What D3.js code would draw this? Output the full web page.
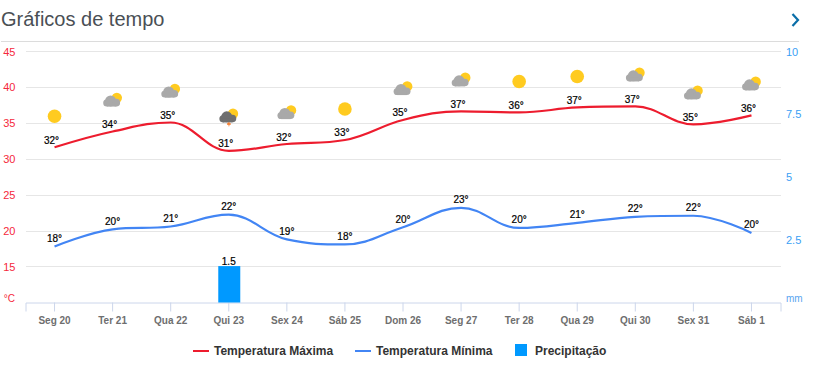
<!DOCTYPE html>
<html>
<head>
<meta charset="utf-8">
<script src="https://cdn.jsdelivr.net/npm/d3@7"></script>
<style>
  body { margin: 0; background: #fff; }
  svg { display: block; font-family: "Liberation Sans", Arial, sans-serif; }
  .grid line { stroke: #e6e6e6; }
</style>
</head>
<body>
<svg id="chart" width="821" height="373"></svg>
<script>
const days = ["Seg 20", "Ter 21", "Qua 22", "Qui 23", "Sex 24", "Sáb 25", "Dom 26", "Seg 27", "Ter 28", "Qua 29", "Qui 30", "Sex 31", "Sáb 1"];
const tempMax = [31.65, 33.85, 35.1, 31.15, 32.1, 32.66, 35.45, 36.66, 36.5, 37.2, 37.35, 34.85, 36.1];
const tempMin = [17.8, 20.2, 20.6, 22.25, 18.8, 18.1, 20.5, 23.2, 20.4, 21.1, 21.95, 22.1, 19.7];
const maxLabels = [32, 34, 35, 31, 32, 33, 35, 37, 36, 37, 37, 35, 36];
const minLabels = [18, 20, 21, 22, 19, 18, 20, 23, 20, 21, 22, 22, 20];
const precip = [0, 0, 0, 1.45, 0, 0, 0, 0, 0, 0, 0, 0, 0];
const precipLabels = ["", "", "", "1.5", "", "", "", "", "", "", "", "", ""];
const icons = ["sun", "cloud", "cloud", "storm", "cloud", "sun", "cloud", "cloud", "sun", "sun", "cloud", "cloud", "cloud"];
const tempTicks = [15, 20, 25, 30, 35, 40, 45];
const rainTicks = [2.5, 5, 7.5, 10];

const red = "#ed1c2e", blue = "#4285f4", rainBlue = "#0099ff";

var svg = d3.select("#chart");

// title + header
svg.append("text").attr("x", 1).attr("y", 26)
  .attr("font-size", 20).attr("fill", "#4a4f55").text("Gráficos de tempo");
svg.append("path").attr("d", "M792.5 14l5.5 6-5.5 6")
  .attr("fill", "none").attr("stroke", "#0a6ea8").attr("stroke-width", 2.2);
svg.append("line").attr("x1", 1).attr("x2", 799).attr("y1", 41.5).attr("y2", 41.5)
  .attr("stroke", "#dcdcdc");

var x = d3.scaleBand().domain(days).range([25.5, 780.5]);
var cx = function(d) { return x(d) + x.bandwidth() / 2; };
var y = d3.scaleLinear().domain([10, 45]).range([302.5, 51.5]);
var yRain = d3.scaleLinear().domain([0, 10]).range([302.5, 51.5]);

// grid
svg.append("g").attr("class", "grid").selectAll("line")
  .data(tempTicks).enter().append("line")
  .attr("x1", 26).attr("x2", 781)
  .attr("y1", function(d) { return Math.round(y(d) - 0.2) + 0.5; })
  .attr("y2", function(d) { return Math.round(y(d) - 0.2) + 0.5; });

// left axis labels
svg.append("g").selectAll("text")
  .data(tempTicks).enter().append("text")
  .attr("x", 15.5).attr("y", function(d) { return y(d) + 4; })
  .attr("text-anchor", "end").attr("font-size", 11).attr("fill", "#f5283c")
  .text(function(d) { return d; });
svg.append("text").attr("x", 15).attr("y", 301.5)
  .attr("text-anchor", "end").attr("font-size", 10).attr("fill", "#f5283c").text("°C");

// right axis labels
svg.append("g").selectAll("text")
  .data(rainTicks).enter().append("text")
  .attr("x", 786).attr("y", function(d) { return yRain(d) + 4; })
  .attr("font-size", 11).attr("fill", "#3aa0f5")
  .text(function(d) { return d; });
svg.append("text").attr("x", 786).attr("y", 301.5)
  .attr("font-size", 10).attr("fill", "#5aa5f0").text("mm");

// x axis
var xAxis = d3.axisBottom(x).tickSize(9).tickPadding(5);
var gx = svg.append("g").attr("transform", "translate(0,302.5)").call(xAxis);
gx.select(".domain").attr("stroke", "#ccd6eb");
gx.selectAll(".tick line").attr("stroke", "#ccd6eb");
gx.selectAll(".tick text")
  .attr("font-size", 10).attr("font-weight", "bold").attr("fill", "#6e6e6e")
  .attr("font-family", "Liberation Sans");

// rain bars
var rainData = precip.map(function(v, i) { return { day: days[i], v: v, label: precipLabels[i] }; })
  .filter(function(d) { return d.v > 0; });
svg.append("g").selectAll("rect")
  .data(rainData)
  .enter().append("rect")
  .attr("x", function(d) { return cx(d.day) - 10.5; })
  .attr("width", 22)
  .attr("y", function(d) { return yRain(d.v); })
  .attr("height", function(d) { return yRain(0) - yRain(d.v); })
  .attr("fill", rainBlue);
svg.append("g").selectAll("text")
  .data(rainData)
  .enter().append("text")
  .attr("x", function(d) { return cx(d.day); })
  .attr("y", function(d) { return yRain(d.v) - 1; })
  .attr("text-anchor", "middle").attr("font-size", 10).attr("fill", "#000")
  .attr("stroke", "#000").attr("stroke-width", 0.2)
  .text(function(d) { return d.label; });

// spline curve, handles at 0.4 of the gap and flattened at local extremes
function splineCurve(context) {
  var pts = [];
  function controls(i) {
    var p = pts[i], a = pts[i - 1], b = pts[i + 1];
    var lx = (1.5 * p[0] + a[0]) / 2.5, ly = (1.5 * p[1] + a[1]) / 2.5;
    var rx = (1.5 * p[0] + b[0]) / 2.5, ry = (1.5 * p[1] + b[1]) / 2.5;
    var fix = (ry - ly) * (rx - p[0]) / (rx - lx) + p[1] - ry;
    ly += fix; ry += fix;
    if (ly > a[1] && ly > p[1]) { ly = Math.max(a[1], p[1]); ry = 2 * p[1] - ly; }
    else if (ly < a[1] && ly < p[1]) { ly = Math.min(a[1], p[1]); ry = 2 * p[1] - ly; }
    if (ry > b[1] && ry > p[1]) { ry = Math.max(b[1], p[1]); ly = 2 * p[1] - ry; }
    else if (ry < b[1] && ry < p[1]) { ry = Math.min(b[1], p[1]); ly = 2 * p[1] - ry; }
    return { left: [lx, ly], right: [rx, ry] };
  }
  return {
    lineStart: function() { pts = []; },
    point: function(px, py) { pts.push([+px, +py]); },
    lineEnd: function() {
      var last = pts.length - 1;
      context.moveTo(pts[0][0], pts[0][1]);
      for (var i = 1; i <= last; i++) {
        var c1 = i === 1 ? pts[0] : controls(i - 1).right;
        var c2 = i === last ? pts[last] : controls(i).left;
        context.bezierCurveTo(c1[0], c1[1], c2[0], c2[1], pts[i][0], pts[i][1]);
      }
    },
    areaStart: function() {},
    areaEnd: function() {}
  };
}

var line = d3.line()
  .x(function(d) { return cx(d.day); })
  .y(function(d) { return y(d.v); })
  .curve(splineCurve);

function drawSeries(values, labels, colour, dx, dy) {
  var pts = values.map(function(v, i) { return { day: days[i], v: v, label: labels[i] }; });
  svg.append("path").datum(pts)
    .attr("d", line).attr("fill", "none")
    .attr("stroke", colour).attr("stroke-width", 2.2);
  svg.append("g").selectAll("text")
    .data(pts).enter().append("text")
    .attr("x", function(d) { return cx(d.day) + dx; })
    .attr("y", function(d) { return y(d.v) + dy; })
    .attr("text-anchor", "middle").attr("font-size", 10).attr("fill", "#000")
    .attr("stroke", "#000").attr("stroke-width", 0.2)
    .text(function(d) { return d.label + "°"; });
}
drawSeries(tempMax, maxLabels, red, -3, -3.5);
drawSeries(tempMin, minLabels, blue, 0, -4.5);

// weather icons sit above the max line
function drawIcon(g, kind) {
  if (kind === "sun") {
    g.append("circle").attr("r", 6.8).attr("fill", "#ffcb20");
    return;
  }
  g.append("circle").attr("cx", 4.2).attr("cy", -2.6).attr("r", 5.2).attr("fill", "#ffcb20");
  var c = kind === "storm" ? "#6f6f6f" : "#a9a9a9";
  var cloud = g.append("g").attr("fill", c);
  cloud.append("circle").attr("cx", -5.8).attr("cy", 2.5).attr("r", 3.6);
  cloud.append("circle").attr("cx", -2).attr("cy", 0.5).attr("r", 5.5);
  cloud.append("circle").attr("cx", 3.7).attr("cy", 2.2).attr("r", 3.8);
  cloud.append("rect").attr("x", -5.8).attr("y", 2.5).attr("width", 9.5).attr("height", 3.6);
  if (kind === "storm") {
    g.append("path").attr("d", "M-1.8 7h1.2v-1h1.4v1h1.2v1.4h-1.2l-.6 2.2-.6-2.2h-1.4z").attr("fill", "#f47a2a");
  }
}
days.forEach(function(d, i) {
  var lift = icons[i] === "storm" ? 34.5 : 31;
  var g = svg.append("g").attr("transform", "translate(" + cx(d) + "," + (y(tempMax[i]) - lift) + ")");
  drawIcon(g, icons[i]);
});

// legend
var legend = svg.append("g").attr("font-size", 12).attr("fill", "#333").attr("font-weight", "bold");
legend.append("line").attr("x1", 193).attr("x2", 209).attr("y1", 351).attr("y2", 351)
  .attr("stroke", red).attr("stroke-width", 2);
legend.append("text").attr("x", 214).attr("y", 355).text("Temperatura Máxima");
legend.append("line").attr("x1", 355).attr("x2", 371).attr("y1", 351).attr("y2", 351)
  .attr("stroke", blue).attr("stroke-width", 2);
legend.append("text").attr("x", 376).attr("y", 355).text("Temperatura Mínima");
legend.append("rect").attr("x", 515).attr("y", 344).attr("width", 12).attr("height", 12).attr("fill", rainBlue);
legend.append("text").attr("x", 535).attr("y", 355).text("Precipitação");
</script>
</body>
</html>
